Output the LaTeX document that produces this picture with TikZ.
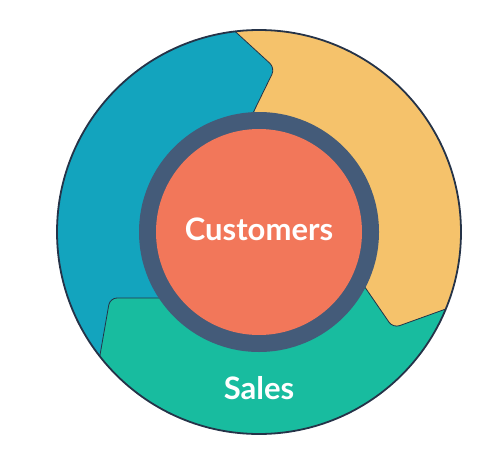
\documentclass[tikz,border=0pt]{standalone}
\usepackage{fontspec}
\setmainfont{Lato}
\usetikzlibrary{positioning}
\definecolor{wheelblue}{HTML}{13A4BE}
\definecolor{wheelyellow}{HTML}{F5C26B}
\definecolor{wheelgreen}{HTML}{18BC9F}
\definecolor{coreorange}{HTML}{F2775A}
\definecolor{ringslate}{HTML}{445B79}
\definecolor{edgedark}{HTML}{253348}
\tikzset{
	rim/.style = {
		circle,
		draw = edgedark,
		line width = 1.8pt,
		minimum size = 404pt,
		inner sep = 0pt
	},
	ring/.style = {
		circle,
		fill = ringslate,
		minimum size = 240pt,
		inner sep = 0pt
	},
	core/.style = {
		circle,
		fill = coreorange,
		minimum size = 206pt,
		inner sep = 0pt
	},
	wheeltext/.style = {
		text = white,
		font = \fontsize{31}{36}\selectfont\bfseries
	},
	seam/.style = {
		draw = edgedark,
		line width = 0.8pt,
		rounded corners = 7pt
	}
}

\begin{document}
\begin{tikzpicture}[x=1pt, y=-1pt]
    \useasboundingbox (0,0) rectangle (500,460) ;
    \coordinate (hub) at (259,232) ;

    \begin{scope}
        \clip (hub) circle (202pt) ;
        \fill [wheelblue] (hub) circle (202pt) ;
        \fill [wheelyellow, rounded corners = 7pt] (215,13) -- (275,68) -- (253,113) -- (hub) -- (360,280) -- (393,328) -- (493,292) -- (500,0) -- (215,0) -- cycle ;
        \fill [wheelgreen, rounded corners = 7pt] (hub) -- (165,298) -- (110,298) -- (93,395) -- (93,460) -- (500,460) -- (493,292) -- (393,328) -- (360,280) -- cycle ;
        \draw [seam] (215,13) -- (275,68) -- (253,113) ;
        \draw [seam] (360,280) -- (393,328) -- (493,292) ;
        \draw [seam] (165,298) -- (110,298) -- (93,395) ;
    \end{scope}

    \node [rim] (wheel) at (hub) {} ;
    \node [ring] (ring) at (hub) {} ;
    \node [core] (core) at (hub) {} ;
    \node [wheeltext] (customers) at (259,229) {Customers} ;
    \node [wheeltext] (sales) at (259,388) {Sales} ;
\end{tikzpicture}
\end{document}
